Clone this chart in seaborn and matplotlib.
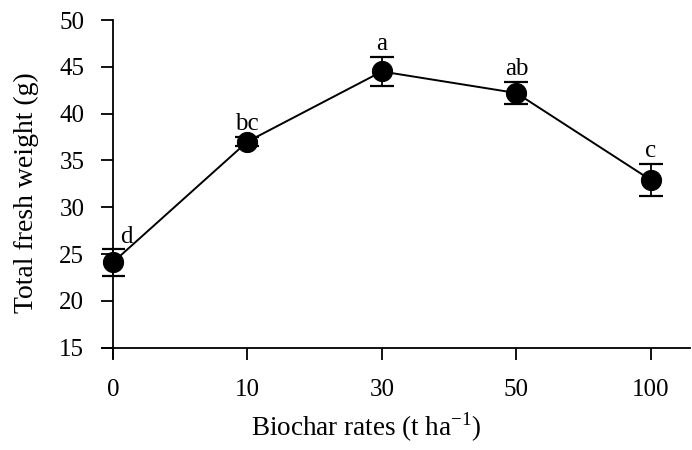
import matplotlib
matplotlib.use("Agg")
import matplotlib.pyplot as plt
import seaborn as sns
import numpy as np
import pandas as pd

categories = ["0", "10", "30", "50", "100"]
weights = [24.1, 37.0, 44.5, 42.2, 32.9]
errors = [1.4, 0.5, 1.6, 1.2, 1.7]
letters = ["d", "bc", "a", "ab", "c"]
yticks = [15, 20, 25, 30, 35, 40, 45, 50]

sns.set_theme(style="white")
plt.rcParams["font.family"] = ["Liberation Serif", "DejaVu Serif"]
plt.rcParams["mathtext.fontset"] = "custom"
plt.rcParams["mathtext.rm"] = "Liberation Serif"

df = pd.DataFrame({"rate": categories, "weight": weights})
pos = np.arange(len(categories))

fig = plt.figure(figsize=(6.92, 4.5), dpi=100)
ax = fig.add_axes([102 / 692, 1 - 358 / 450, 588 / 692, 338 / 450])

sns.lineplot(x=pos, y=weights, ax=ax, color="black", linewidth=1.4,
             marker="o", markersize=14.5, markeredgecolor="black",
             markerfacecolor="black", zorder=3)
ax.errorbar(pos, weights, yerr=errors, fmt="none", ecolor="black",
            elinewidth=1.3, capsize=8.5, capthick=1.6, zorder=2)

for x, y, e, t in zip(pos, weights, errors, letters):
    dx = 0.1 if x == 0 else 0.0
    ax.text(x + dx, y + e + 0.2, t, ha="center", va="bottom", fontsize=18,
            color="black")

ax.set_xlim(-0.08, 4.29)
ax.set_ylim(13.9, 50)
ax.set_xticks(pos)
ax.set_xticklabels(categories)
ax.set_yticks(yticks)

for s in ["top", "right"]:
    ax.spines[s].set_visible(False)
ax.spines["left"].set_position(("data", 0))
ax.spines["bottom"].set_position(("data", 15))
for s in ["left", "bottom"]:
    ax.spines[s].set_color("black")
    ax.spines[s].set_linewidth(1.3)
ax.spines["left"].set_bounds(13.9, 50)

ax.tick_params(axis="both", direction="out", length=8.5, width=1.3,
               color="black", labelsize=18, labelcolor="black",
               left=True, bottom=True)
ax.tick_params(axis="y", pad=12)
ax.tick_params(axis="x", pad=14)

ax.set_xlabel("Biochar rates (t ha$^{\\mathrm{-1}}$)", fontsize=19.5,
              color="black")
ax.set_ylabel("Total fresh weight (g)", fontsize=20, color="black")
ax.yaxis.set_label_coords((26 - 102) / 588, (358 - 193) / 338)
ax.yaxis.label.set_va("center")
ax.xaxis.set_label_coords((366 - 102) / 588, -(427 - 358) / 338)
ax.xaxis.label.set_va("center")

fig.savefig("out.png", dpi=100)
